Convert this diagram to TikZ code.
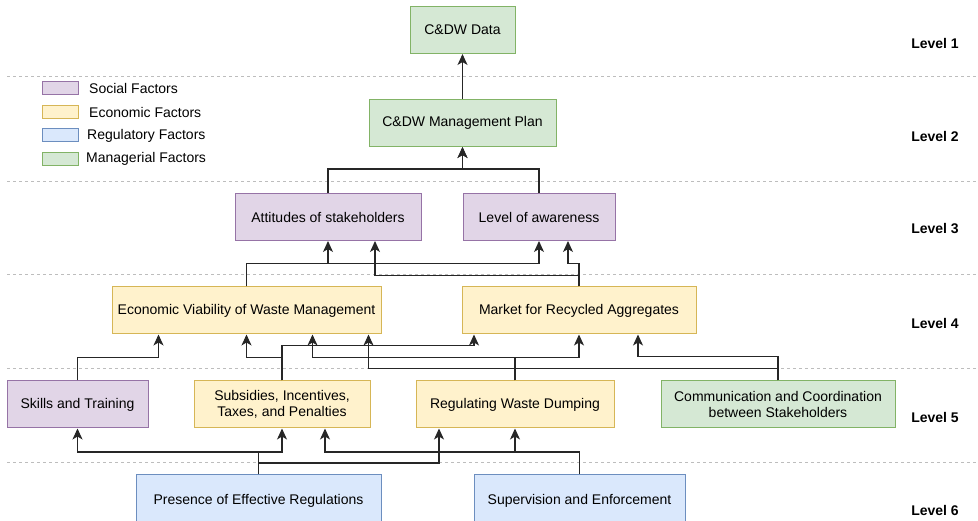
\documentclass[tikz,border=0pt]{standalone}
\usepackage{fontspec}
\setmainfont{Liberation Sans}
\usepackage{tikz}
\usetikzlibrary{arrows.meta}
\newcommand{\lData}{C\&DW Data}
\newcommand{\lPlan}{C\&DW Management Plan}
\newcommand{\lAttitudes}{Attitudes of stakeholders}
\newcommand{\lAwareness}{Level of awareness}
\newcommand{\lViability}{Economic Viability of Waste Management}
\newcommand{\lMarket}{Market for Recycled Aggregates}
\newcommand{\lSkills}{Skills and Training}
\newcommand{\lSubsidies}{Subsidies, Incentives,\\Taxes, and Penalties}
\newcommand{\lDumping}{Regulating Waste Dumping}
\newcommand{\lCommunication}{Communication and Coordination\\between Stakeholders}
\newcommand{\lRegulations}{Presence of Effective Regulations}
\newcommand{\lSupervision}{Supervision and Enforcement}
\definecolor{fillSocial}{HTML}{E1D5E7}
\definecolor{lineSocial}{HTML}{9673A6}
\definecolor{fillEconomic}{HTML}{FFF2CC}
\definecolor{lineEconomic}{HTML}{D6B656}
\definecolor{fillRegulatory}{HTML}{DAE8FC}
\definecolor{lineRegulatory}{HTML}{6C8EBF}
\definecolor{fillManagerial}{HTML}{D5E8D4}
\definecolor{lineManagerial}{HTML}{82B366}
\definecolor{levelGrey}{HTML}{BDBDBD}

\begin{document}
\begin{tikzpicture} [
        % pixel grid, y runs downwards
        x=1pt, y=-1pt,
        font=\fontsize{14}{16.5}\selectfont,
        box/.style={draw, line width=1pt, align=center, inner sep=2pt, minimum height=47pt},
        social/.style={box, fill=fillSocial, draw=lineSocial},
        economic/.style={box, fill=fillEconomic, draw=lineEconomic},
        regulatory/.style={box, fill=fillRegulatory, draw=lineRegulatory, minimum height=52pt, anchor=north},
        managerial/.style={box, fill=fillManagerial, draw=lineManagerial},
        swatch/.style={draw, line width=1pt, minimum width=36pt, minimum height=13pt, inner sep=0pt},
        key/.style={anchor=west, inner sep=0pt},
        link/.style={-{Stealth[length=11pt, width=10pt, inset=3pt]}, line width=1.1pt, black!85},
        levelline/.style={levelGrey, line width=1pt, dash pattern=on 3pt off 3pt},
        levellabel/.style={font=\fontsize{14}{16.5}\selectfont\bfseries}
    ]

    \useasboundingbox (0,0) rectangle (978,521);

    \foreach \y in {77, 182, 275, 369, 462} {
        \draw[levelline] (7,\y) -- (978,\y);
    }
    \foreach \i/\y in {1/43, 2/136, 3/229, 4/323, 5/417, 6/510} {
        \node[levellabel] (level \i) at (935,\y) {Level \i};
    }

    % legend
    \node[swatch, fill=fillSocial, draw=lineSocial] (key social) at (60,88.5) {};
    \node[swatch, fill=fillEconomic, draw=lineEconomic] (key economic) at (60,112) {};
    \node[swatch, fill=fillRegulatory, draw=lineRegulatory] (key regulatory) at (60,135.5) {};
    \node[swatch, fill=fillManagerial, draw=lineManagerial] (key managerial) at (60,159) {};
    \node[key] (key social text) at (89,88.5) {Social Factors};
    \node[key] (key economic text) at (89,112) {Economic Factors};
    \node[key] (key regulatory text) at (87,135.5) {Regulatory Factors};
    \node[key] (key managerial text) at (86,159) {Managerial Factors};

    \node[managerial, minimum width=105pt] (data) at (462.5,30) {\lData};
    \node[managerial, minimum width=187pt] (plan) at (462.5,123) {\lPlan};

    \node[social, minimum width=186pt] (attitudes) at (328,217) {\lAttitudes};
    \node[social, minimum width=152pt] (awareness) at (539,217) {\lAwareness};

    \node[economic, minimum width=269pt] (viability) at (246.5,310.5) {\lViability};
    \node[economic, minimum width=234pt] (market) at (579,310.5) {\lMarket};

    \node[social, minimum width=141pt] (skills) at (77.5,404.5) {\lSkills};
    \node[economic, minimum width=176pt] (subsidies) at (282,404.5) {\lSubsidies};
    \node[economic, minimum width=198pt] (dumping) at (515,404.5) {\lDumping};
    \node[managerial, minimum width=234pt] (communication) at (778,404.5) {\lCommunication};

    \node[regulatory, minimum width=245pt] (regulations) at (258.5,474) {\lRegulations};
    \node[regulatory, minimum width=211pt] (supervision) at (579.5,474) {\lSupervision};

    \draw[link] (plan) -- (data);
    \draw[link] (attitudes.north) -- ++(0,-24) -| (plan.south);
    \draw[link] (awareness.north) -- ++(0,-24) -| (plan.south);

    \draw[link] (viability.north) -- ++(0,-23) -| (attitudes.south);
    \draw[link] (viability.north) -- ++(0,-23) -| (awareness.south);
    \draw[link] (market.north) -- ++(0,-11) -| ([xshift=47pt]attitudes.south);
    \draw[link] (market.north) -- ++(0,-23) -| ([xshift=29pt]awareness.south);

    \draw[link] (skills.north) -- ++(0,-23) -| ([xshift=-88pt]viability.south);
    \draw[link] (subsidies.north) -- ++(0,-23) -| (viability.south);
    \draw[link] (subsidies.north) -- ++(0,-35) -| ([xshift=-105pt]market.south);
    \draw[link] (dumping.north) -- ++(0,-23) -| ([xshift=66pt]viability.south);
    \draw[link] (dumping.north) -- ++(0,-23) -| (market.south);
    \draw[link] (communication.north) -- ++(0,-12) -| ([xshift=122pt]viability.south);
    \draw[link] (communication.north) -- ++(0,-24) -| ([xshift=59pt]market.south);

    \draw[link] (regulations.north) -- ++(0,-22) -| (skills.south);
    \draw[link] (regulations.north) -- ++(0,-22) -| (subsidies.south);
    \draw[link] (regulations.north) -- ++(0,-11) -| ([xshift=-76pt]dumping.south);
    \draw[link] (supervision.north) -- ++(0,-22) -| ([xshift=43pt]subsidies.south);
    \draw[link] (supervision.north) -- ++(0,-22) -| (dumping.south);

\end{tikzpicture}
\end{document}
